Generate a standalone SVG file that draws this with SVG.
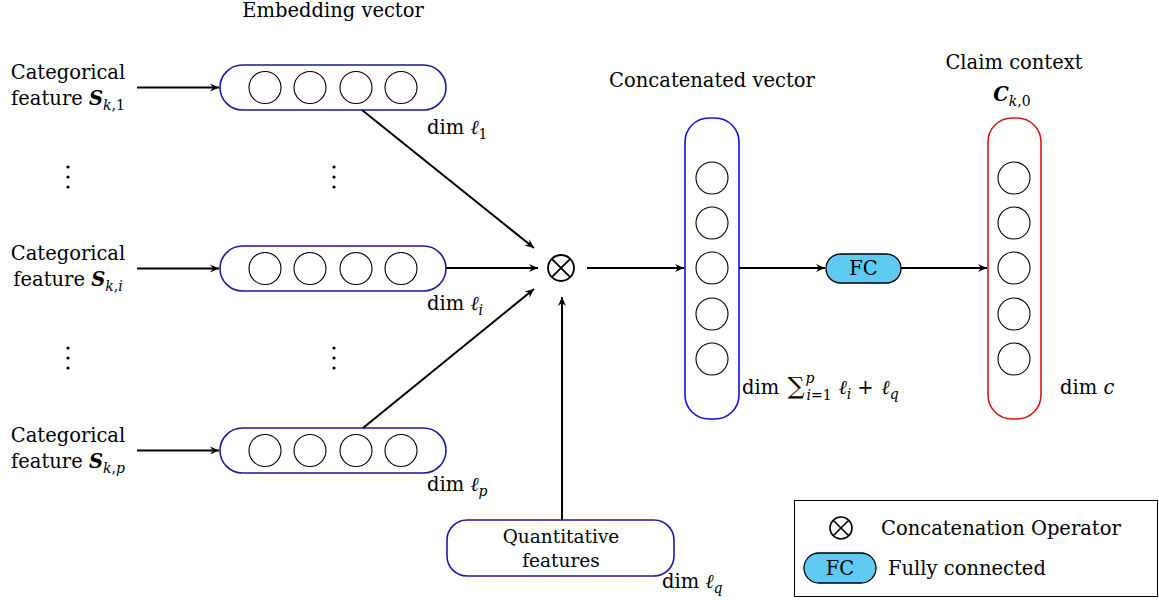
<svg xmlns="http://www.w3.org/2000/svg" width="1159" height="600" viewBox="0 0 1159 600">
<defs>
<marker id="ah" viewBox="0 0 10 10" refX="9" refY="5" markerWidth="10" markerHeight="10" markerUnits="userSpaceOnUse" orient="auto">
<path d="M0,1 L9,5 L0,9 L3,5 Z" fill="#000"/>
</marker>
</defs>
<style>
text{font-family:"DejaVu Serif","Liberation Serif",serif;fill:#000}
.t{font-size:19.5px}
.s{font-size:14px}
.emb{fill:#fff;stroke:#1a1a9e;stroke-width:1.6}
.cat{fill:#fff;stroke:#1010e0;stroke-width:1.6}
.red{fill:#fff;stroke:#d41818;stroke-width:1.6}
.c{fill:#fff;stroke:#000;stroke-width:1.1}
.fc{fill:#5fcaf2;stroke:#000;stroke-width:1.3}
.ln{stroke:#000;stroke-width:2;fill:none}
.dot{fill:#000}
</style>
<text class="t" x="333" y="17" text-anchor="middle">Embedding vector</text>
<text class="t" x="712" y="87" text-anchor="middle">Concatenated vector</text>
<text class="t" x="1014" y="69" text-anchor="middle">Claim context</text>
<text class="t" x="1012" y="101" text-anchor="middle"><tspan font-weight="bold" font-style="italic">C</tspan><tspan class="s" font-style="italic" dy="5">k</tspan><tspan class="s">,0</tspan></text>

<g id="label1"><text class="t" x="68" y="79" text-anchor="middle">Categorical</text><text class="t" x="68" y="105" text-anchor="middle">feature <tspan font-weight="bold" font-style="italic">S</tspan><tspan class="s" font-style="italic" dy="5">k</tspan><tspan class="s">,1</tspan></text></g>
<g id="label2"><text class="t" x="68" y="260" text-anchor="middle">Categorical</text><text class="t" x="68" y="286" text-anchor="middle">feature <tspan font-weight="bold" font-style="italic">S</tspan><tspan class="s" font-style="italic" dy="5">k</tspan><tspan class="s">,</tspan><tspan class="s" font-style="italic">i</tspan></text></g>
<g id="label3"><text class="t" x="68" y="442" text-anchor="middle">Categorical</text><text class="t" x="68" y="468" text-anchor="middle">feature <tspan font-weight="bold" font-style="italic">S</tspan><tspan class="s" font-style="italic" dy="5">k</tspan><tspan class="s">,</tspan><tspan class="s" font-style="italic">p</tspan></text></g>

<g id="vdots">
<circle class="dot" cx="68" cy="167" r="1.6"/><circle class="dot" cx="68" cy="177" r="1.6"/><circle class="dot" cx="68" cy="187" r="1.6"/>
<circle class="dot" cx="334" cy="167" r="1.6"/><circle class="dot" cx="334" cy="177" r="1.6"/><circle class="dot" cx="334" cy="187" r="1.6"/>
<circle class="dot" cx="68" cy="348" r="1.6"/><circle class="dot" cx="68" cy="358" r="1.6"/><circle class="dot" cx="68" cy="368" r="1.6"/>
<circle class="dot" cx="334" cy="348" r="1.6"/><circle class="dot" cx="334" cy="358" r="1.6"/><circle class="dot" cx="334" cy="368" r="1.6"/>
</g>

<g id="emb1">
<rect class="emb" x="220" y="65" width="226" height="45" rx="22.5"/>
<circle class="c" cx="265" cy="87.5" r="16"/><circle class="c" cx="310" cy="87.5" r="16"/><circle class="c" cx="356" cy="87.5" r="16"/><circle class="c" cx="401" cy="87.5" r="16"/>
<text class="t" x="427" y="134">dim <tspan font-style="italic">ℓ</tspan><tspan class="s" dy="5">1</tspan></text>
</g>
<g id="emb2">
<rect class="emb" x="220" y="246" width="226" height="45" rx="22.5"/>
<circle class="c" cx="265" cy="268.5" r="16"/><circle class="c" cx="310" cy="268.5" r="16"/><circle class="c" cx="356" cy="268.5" r="16"/><circle class="c" cx="401" cy="268.5" r="16"/>
<text class="t" x="427" y="310">dim <tspan font-style="italic">ℓ</tspan><tspan class="s" font-style="italic" dy="5">i</tspan></text>
</g>
<g id="emb3">
<rect class="emb" x="220" y="428" width="226" height="45" rx="22.5"/>
<circle class="c" cx="265" cy="450.5" r="16"/><circle class="c" cx="310" cy="450.5" r="16"/><circle class="c" cx="356" cy="450.5" r="16"/><circle class="c" cx="401" cy="450.5" r="16"/>
<text class="t" x="427" y="491">dim <tspan font-style="italic">ℓ</tspan><tspan class="s" font-style="italic" dy="5">p</tspan></text>
</g>

<g id="concat-op">
<circle cx="561" cy="268" r="13" fill="#fff" stroke="#000" stroke-width="1.8"/>
<path d="M551.8,258.8 L570.2,277.2 M570.2,258.8 L551.8,277.2" stroke="#000" stroke-width="1.8"/>
</g>

<g id="quant">
<rect class="emb" x="447" y="520" width="227" height="56" rx="20"/>
<text x="561" y="543" text-anchor="middle" font-size="18.5">Quantitative</text>
<text x="561" y="567" text-anchor="middle" font-size="18.5">features</text>
<text class="t" x="662" y="588">dim <tspan font-style="italic">ℓ</tspan><tspan class="s" font-style="italic" dy="5">q</tspan></text>
</g>

<g id="concat">
<rect class="cat" x="685" y="118" width="54" height="301" rx="24"/>
<circle class="c" cx="712" cy="178" r="16"/><circle class="c" cx="712" cy="223" r="16"/><circle class="c" cx="712" cy="268" r="16"/><circle class="c" cx="712" cy="314" r="16"/><circle class="c" cx="712" cy="359" r="16"/>
<text class="t" x="742" y="394">dim <tspan font-size="24" dx="2">∑</tspan><tspan class="s" font-style="italic" dy="-11" dx="1">p</tspan><tspan class="s" font-style="italic" dx="-8" dy="17">i</tspan><tspan class="s">=1</tspan><tspan font-style="italic" dy="-6" dx="7">ℓ</tspan><tspan class="s" font-style="italic" dy="5">i</tspan><tspan dy="-5" dx="6">+</tspan><tspan font-style="italic" dx="8">ℓ</tspan><tspan class="s" font-style="italic" dy="5">q</tspan></text>
</g>

<g id="fc">
<rect class="fc" x="826" y="254" width="75" height="29" rx="14.5"/>
<text class="t" x="863.5" y="275" text-anchor="middle">FC</text>
</g>

<g id="claim">
<rect class="red" x="988" y="118" width="53" height="301" rx="24"/>
<circle class="c" cx="1014" cy="178" r="16"/><circle class="c" cx="1014" cy="223" r="16"/><circle class="c" cx="1014" cy="268" r="16"/><circle class="c" cx="1014" cy="314" r="16"/><circle class="c" cx="1014" cy="359" r="16"/>
<text class="t" x="1060" y="394">dim <tspan font-style="italic">c</tspan></text>
</g>

<g id="connectors">
<line class="ln" x1="137" y1="87.5" x2="219" y2="87.5" marker-end="url(#ah)"/>
<line class="ln" x1="137" y1="268.5" x2="219" y2="268.5" marker-end="url(#ah)"/>
<line class="ln" x1="137" y1="450.5" x2="219" y2="450.5" marker-end="url(#ah)"/>
<line class="ln" x1="362" y1="110" x2="534" y2="248" marker-end="url(#ah)"/>
<line class="ln" x1="446" y1="268" x2="538" y2="268" marker-end="url(#ah)"/>
<line class="ln" x1="363" y1="428" x2="534" y2="289" marker-end="url(#ah)"/>
<line class="ln" x1="562" y1="520" x2="562" y2="297" marker-end="url(#ah)"/>
<line class="ln" x1="587" y1="268" x2="684" y2="268" marker-end="url(#ah)"/>
<line class="ln" x1="739" y1="268" x2="825" y2="268" marker-end="url(#ah)"/>
<line class="ln" x1="901" y1="268" x2="987" y2="268" marker-end="url(#ah)"/>
</g>

<g id="legend">
<rect x="794.5" y="500.5" width="363" height="96" fill="#fff" stroke="#000" stroke-width="1"/>
<circle cx="841" cy="528" r="11" fill="#fff" stroke="#000" stroke-width="1.6"/>
<path d="M833.2,520.2 L848.8,535.8 M848.8,520.2 L833.2,535.8" stroke="#000" stroke-width="1.6"/>
<text class="t" x="881" y="535">Concatenation Operator</text>
<rect class="fc" x="804" y="553" width="72" height="30" rx="15"/>
<text class="t" x="840" y="575" text-anchor="middle">FC</text>
<text class="t" x="888" y="575">Fully connected</text>
</g>
</svg>
